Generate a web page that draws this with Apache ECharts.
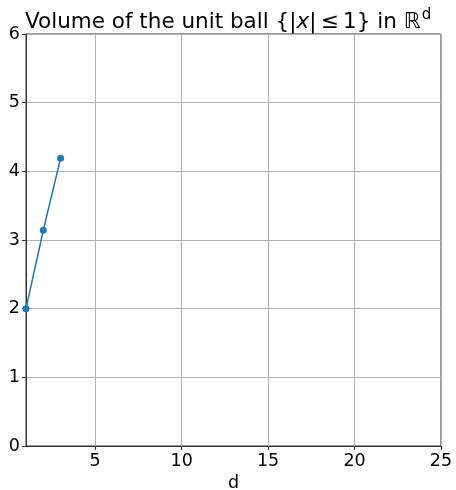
<!DOCTYPE html>
<html>
<head>
<meta charset="utf-8">
<script src="https://cdn.jsdelivr.net/npm/echarts@6/dist/echarts.min.js"></script>
<style>
  html, body { margin: 0; padding: 0; background: #fff; }
  #chart { width: 456px; height: 490px; }
</style>
</head>
<body>
<div id="chart"></div>
<script>
// Dimensions d and the volume of the unit ball in R^d
const dims = [1, 2, 3];
const volumes = [2.0, 3.14159, 4.18879];
const xTicks = [5, 10, 15, 20, 25];
const yTicks = [0, 1, 2, 3, 4, 5, 6];

const FONT = 'DejaVu Sans';
const chart = echarts.init(document.getElementById('chart'), null, { renderer: 'canvas' });

chart.setOption({
  animation: false,
  title: {
    text: 'Volume of the unit ball {|{i|x}|\u2009≤\u20091} in {r|ℝ}{s|d}',
    left: 20,
    top: 3,
    textStyle: {
      fontFamily: FONT,
      fontSize: 21.5,
      fontWeight: 'normal',
      color: '#000',
      rich: {
        i: { fontFamily: FONT, fontSize: 21.5, fontStyle: 'italic', color: '#000' },
        r: { fontFamily: FONT, fontSize: 21.5, fontStyle: 'italic', color: '#000' },
        s: { fontFamily: FONT, fontSize: 15, color: '#000', padding: [0, 0, 14, 1] }
      }
    }
  },
  grid: {
    left: 26, top: 34, width: 415, height: 412,
    outerBoundsMode: 'none',
    containLabel: false,
    show: true, borderColor: '#333', borderWidth: 1, backgroundColor: 'transparent'
  },
  xAxis: {
    type: 'value',
    min: 1, max: 25,
    name: 'd',
    nameLocation: 'middle',
    nameGap: 28,
    nameTextStyle: { fontFamily: FONT, fontSize: 17.5, color: '#000' },
    axisLine: { show: true, lineStyle: { color: '#333', width: 1 } },
    axisTick: { show: true, length: 4, inside: false, customValues: xTicks, lineStyle: { color: '#333' } },
    axisLabel: { customValues: xTicks, fontFamily: FONT, fontSize: 17.5, color: '#000', margin: 6 },
    splitLine: { show: true, lineStyle: { color: '#b0b0b0', width: 1 } }
  },
  yAxis: {
    type: 'value',
    min: 0, max: 6, interval: 1,
    axisLine: { show: true, lineStyle: { color: '#333', width: 1 } },
    axisTick: { show: true, length: 4, inside: false, lineStyle: { color: '#333' } },
    axisLabel: { customValues: yTicks, fontFamily: FONT, fontSize: 17.5, color: '#000', margin: 6 },
    splitLine: { show: true, lineStyle: { color: '#b0b0b0', width: 1 } }
  },
  series: [{
    type: 'line',
    data: dims.map((d, k) => [d, volumes[k]]),
    symbol: 'circle',
    symbolSize: 7,
    lineStyle: { color: '#1f77b4', width: 1.5 },
    itemStyle: { color: '#1f77b4' },
    clip: true
  }]
});
</script>
</body>
</html>
